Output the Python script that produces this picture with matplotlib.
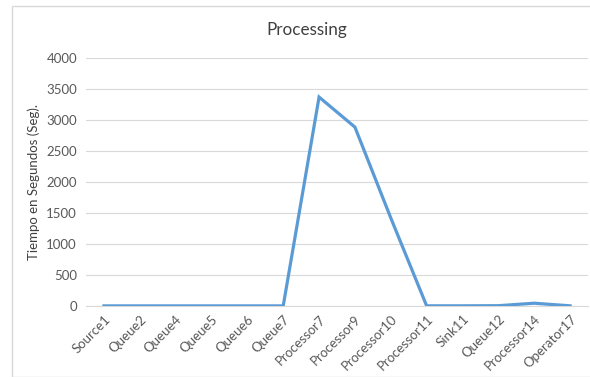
import matplotlib

matplotlib.use("Agg")

import matplotlib.pyplot as plt
from matplotlib.patches import Rectangle
import numpy as np

categories = [
    "Source1", "Queue2", "Queue4", "Queue5", "Queue6", "Queue7", "Processor7",
    "Processor9", "Processor10", "Processor11", "Sink11", "Queue12",
    "Processor14", "Operator17",
]
seconds = [2, 2, 2, 2, 2, 2, 3370, 2885, 1420, 3, 3, 5, 45, 3]
yticks = [0, 500, 1000, 1500, 2000, 2500, 3000, 3500, 4000]

plt.rcParams["font.family"] = ["Lato", "DejaVu Sans"]

fig = plt.figure(figsize=(5.9, 3.77), dpi=100)
fig.patches.append(
    Rectangle((12 / 590, 0), 1, 1 - 6 / 377, transform=fig.transFigure,
              fill=False, edgecolor="#d9d9d9", linewidth=1.0)
)

ax = fig.add_axes([86 / 590, 1 - 306 / 377, 502 / 590, 248 / 377])
x = np.arange(len(categories))
ax.plot(x, seconds, color="#5b9bd5", linewidth=2.3, solid_joinstyle="miter", zorder=3)

ax.set_xlim(-0.5, len(categories) - 0.5)
ax.set_ylim(0, 4000)
ax.set_yticks(yticks)
ax.set_yticklabels([str(v) for v in yticks], fontsize=9.5, color="#595959")
ax.set_xticks(x)
ax.set_xticklabels(categories, rotation=45, ha="right", rotation_mode="anchor",
                   fontsize=9.5, color="#595959")
ax.tick_params(axis="both", length=0)
ax.tick_params(axis="y", pad=6.5)
ax.tick_params(axis="x", pad=5)

ax.grid(axis="y", color="#d9d9d9", linewidth=0.8)
ax.set_axisbelow(True)
for side in ["top", "right", "left"]:
    ax.spines[side].set_visible(False)
ax.spines["bottom"].set_color("#d9d9d9")
ax.spines["bottom"].set_linewidth(0.8)

ax.set_ylabel("Tiempo en Segundos (Seg).", fontsize=9.5, color="#404040")
ax.yaxis.set_label_coords((40 - 86) / 502, 0.5)
fig.text(307 / 590, 1 - 30 / 377, "Processing", ha="center", va="center",
         fontsize=12.3, color="#404040")

fig.savefig("out.png", dpi=100)
